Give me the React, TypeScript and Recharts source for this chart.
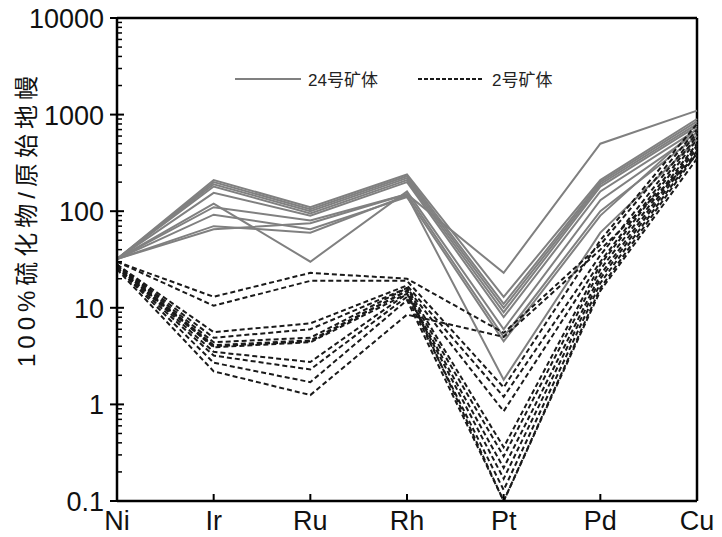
import React from "react";
import {
  LineChart,
  Line,
  XAxis,
  YAxis,
  ReferenceLine,
} from "recharts";

const FONT = '"Liberation Sans", Arial, "Noto Sans CJK SC", sans-serif';

const elements = ["Ni", "Ir", "Ru", "Rh", "Pt", "Pd", "Cu"];

// 24号矿体 (solid grey)
const ore24a = [32, 65, 75, 150, 23, 500, 1100];
const ore24b = [32, 210, 110, 240, 13, 210, 900];
const ore24c = [32, 200, 105, 230, 11, 200, 850];
const ore24d = [32, 190, 100, 220, 10, 190, 800];
const ore24e = [32, 180, 95, 210, 9, 180, 760];
const ore24f = [32, 155, 90, 200, 8, 160, 700];
const ore24g = [32, 120, 30, 160, 6, 130, 650];
const ore24h = [32, 110, 80, 150, 5, 100, 600];
const ore24i = [32, 92, 65, 140, 4.5, 90, 720];
const ore24j = [32, 70, 60, 145, 1.8, 60, 550];
const ore24 = [ore24a, ore24b, ore24c, ore24d, ore24e, ore24f, ore24g, ore24h, ore24i, ore24j];

// 2号矿体 (dashed black)
const ore2a = [30, 13, 23, 20, 5.5, 45, 700];
const ore2b = [30, 10.5, 19, 19, 1.5, 50, 800];
const ore2c = [28, 5.6, 6.9, 17, 1.2, 35, 650];
const ore2d = [28, 4.9, 6, 16, 0.85, 30, 600];
const ore2e = [28, 4.4, 4.9, 16, 0.36, 28, 550];
const ore2f = [27, 4.1, 4.6, 15, 0.29, 25, 500];
const ore2g = [27, 3.9, 4.4, 14, 0.22, 22, 480];
const ore2h = [27, 3.5, 2.75, 14, 0.17, 20, 450];
const ore2i = [26, 3.2, 2.3, 13, 0.13, 18, 420];
const ore2j = [26, 2.7, 1.7, 12, 0.1, 16, 400];
const ore2k = [25, 2.2, 1.25, 8.5, 5, 40, 380];
const ore2l = [26, 4.0, 4.5, 15, 0.1, 15, 350];
const ore2 = [ore2a, ore2b, ore2c, ore2d, ore2e, ore2f, ore2g, ore2h, ore2i, ore2j, ore2k, ore2l];

const majorTicks = [0.1, 1, 10, 100, 1000, 10000];
const minorTicks = [0.1, 1, 10, 100, 1000].flatMap((d) =>
  [2, 3, 4, 5, 6, 7, 8, 9].map((m) => +(d * m).toPrecision(3))
);
const yTicks = [...majorTicks, ...minorTicks].sort((a, b) => a - b);

const data = elements.map((el, i) => {
  const row: Record<string, any> = { el };
  ore24.forEach((s, k) => (row["g" + k] = s[i]));
  ore2.forEach((s, k) => (row["d" + k] = s[i]));
  return row;
});

const YTick = (props: any) => {
  const { x, y, payload } = props;
  const v = Number(payload.value);
  const major = majorTicks.some((m) => Math.abs(m - v) < 1e-9);
  if (!major) {
    return <line x1={x} x2={x + 5} y1={y} y2={y} stroke="#000" strokeWidth={1.5} />;
  }
  return (
    <g>
      <line x1={x - 7} x2={x + 7} y1={y} y2={y} stroke="#000" strokeWidth={2} />
      <text x={x - 13} y={y + 10} textAnchor="end" fontSize={27} fill="#111" fontFamily={FONT}>
        {v}
      </text>
    </g>
  );
};

const XTick = (props: any) => {
  const { x, y, payload } = props;
  return (
    <g>
      <line x1={x} x2={x} y1={y} y2={y - 7} stroke="#000" strokeWidth={2} />
      <text x={x} y={y + 29} textAnchor="middle" fontSize={27} fill="#111" fontFamily={FONT}>
        {payload.value}
      </text>
    </g>
  );
};

const YTitle = () => (
  <text
    x={26}
    y={219}
    transform="rotate(-90 26 219)"
    textAnchor="middle"
    dominantBaseline="central"
    fontSize={24}
    letterSpacing={5}
    fill="#111"
    fontFamily={FONT}
  >
    100%硫化物/原始地幔
  </text>
);

export default function App() {
  return (
    <div style={{ position: "absolute", left: 0, top: 0, width: 722, height: 537, background: "#fff" }}>
      <LineChart
        width={722}
        height={537}
        data={data}
        margin={{ top: 18, right: 25, left: 57, bottom: 6 }}
      >
        <XAxis
          dataKey="el"
          height={30}
          axisLine={{ stroke: "#000", strokeWidth: 2.5 }}
          tickLine={false}
          tickSize={0}
          tickMargin={0}
          tick={<XTick />}
          interval={0}
        />
        <YAxis
          scale="log"
          domain={[0.1, 10000]}
          allowDataOverflow
          ticks={yTicks}
          interval={0}
          width={60}
          axisLine={{ stroke: "#000", strokeWidth: 2.5 }}
          tickLine={false}
          tickSize={0}
          tickMargin={0}
          tick={<YTick />}
          label={<YTitle />}
        />
        <ReferenceLine y={10000} stroke="#000" strokeWidth={2.5} />
        <ReferenceLine x="Cu" stroke="#000" strokeWidth={2.5} />
        {ore24.map((_, k) => (
          <Line
            key={"g" + k}
            dataKey={"g" + k}
            stroke="#808080"
            strokeWidth={2}
            dot={false}
            isAnimationActive={false}
          />
        ))}
        {ore2.map((_, k) => (
          <Line
            key={"d" + k}
            dataKey={"d" + k}
            stroke="#1a1a1a"
            strokeWidth={2}
            strokeDasharray="5 3"
            dot={false}
            isAnimationActive={false}
          />
        ))}
      </LineChart>
      <div
        style={{
          position: "absolute",
          left: 235,
          top: 66,
          display: "flex",
          alignItems: "center",
          fontFamily: FONT,
          fontSize: 17,
          color: "#222",
        }}
      >
        <svg width={66} height={10}>
          <line x1={0} x2={66} y1={5} y2={5} stroke="#808080" strokeWidth={2} />
        </svg>
        <span style={{ marginLeft: 7 }}>24号矿体</span>
        <svg width={64} height={10} style={{ marginLeft: 40 }}>
          <line x1={0} x2={64} y1={5} y2={5} stroke="#1a1a1a" strokeWidth={2} strokeDasharray="4 2" />
        </svg>
        <span style={{ marginLeft: 10 }}>2号矿体</span>
      </div>
    </div>
  );
}
